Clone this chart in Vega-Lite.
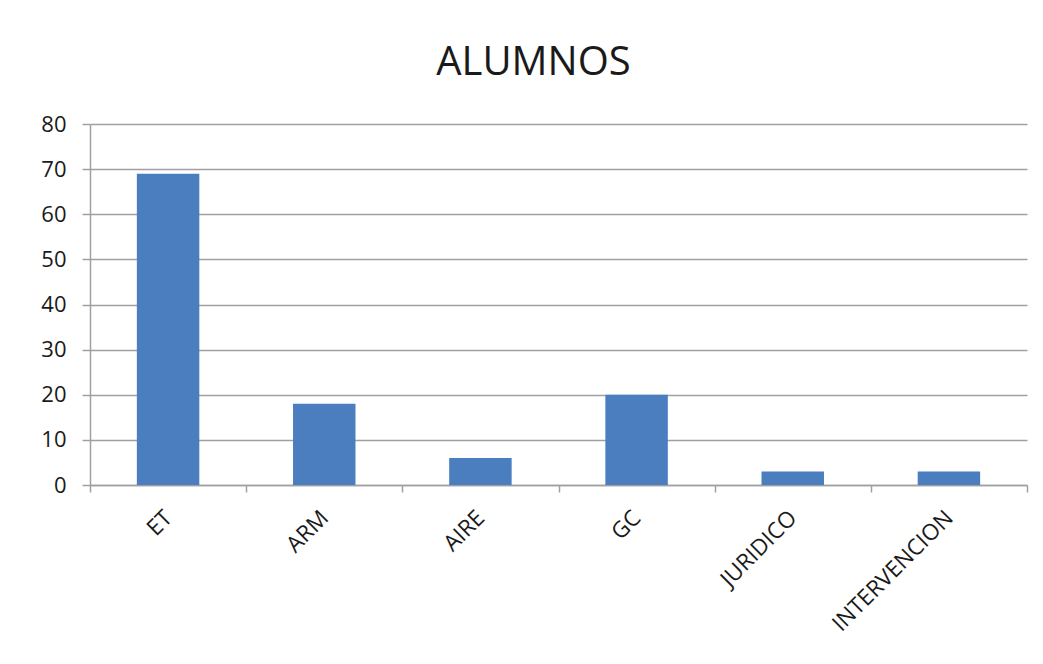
{
  "$schema": "https://vega.github.io/schema/vega-lite/v6.json",
  "width": 937,
  "height": 361,
  "autosize": "none",
  "padding": {"left": 90, "top": 124, "right": 16, "bottom": 179},
  "background": "white",
  "title": {
    "text": "ALUMNOS",
    "fontSize": 40,
    "font": "Open Sans",
    "fontWeight": "normal",
    "color": "#1a1a1a",
    "anchor": "middle",
    "dx": -25,
    "offset": 30
  },
  "data": {
    "values": [
      {"categoria": "ET", "alumnos": 69},
      {"categoria": "ARM", "alumnos": 18},
      {"categoria": "AIRE", "alumnos": 6},
      {"categoria": "GC", "alumnos": 20},
      {"categoria": "JURIDICO", "alumnos": 3},
      {"categoria": "INTERVENCION", "alumnos": 3}
    ]
  },
  "mark": {"type": "bar", "color": "#4a7ebf", "width": {"band": 0.4}},
  "encoding": {
    "x": {
      "field": "categoria",
      "type": "nominal",
      "sort": null,
      "scale": {"paddingInner": 0, "paddingOuter": 0},
      "axis": {
        "title": null,
        "labelAngle": -45,
        "labelAlign": "right",
        "labelBaseline": "middle",
        "labelFontSize": 22.5,
        "labelFont": "Open Sans",
        "labelColor": "#1a1a1a",
        "labelPadding": 22,
        "domainColor": "#a0a0a0",
        "domainWidth": 1.5,
        "tickColor": "#a0a0a0",
        "tickSize": 7,
        "tickWidth": 1.5,
        "tickBand": "extent",
        "grid": false
      }
    },
    "y": {
      "field": "alumnos",
      "type": "quantitative",
      "scale": {"domain": [0, 80], "nice": false},
      "axis": {
        "title": null,
        "values": [0, 10, 20, 30, 40, 50, 60, 70, 80],
        "labelFontSize": 22,
        "labelFont": "Open Sans",
        "labelColor": "#1a1a1a",
        "labelPadding": 16,
        "domainColor": "#a0a0a0",
        "domainWidth": 1.5,
        "tickColor": "#a0a0a0",
        "tickSize": 8,
        "tickWidth": 1.5,
        "gridColor": "#a0a0a0",
        "gridWidth": 1.5
      }
    }
  },
  "config": {
    "view": {"stroke": null}
  }
}
